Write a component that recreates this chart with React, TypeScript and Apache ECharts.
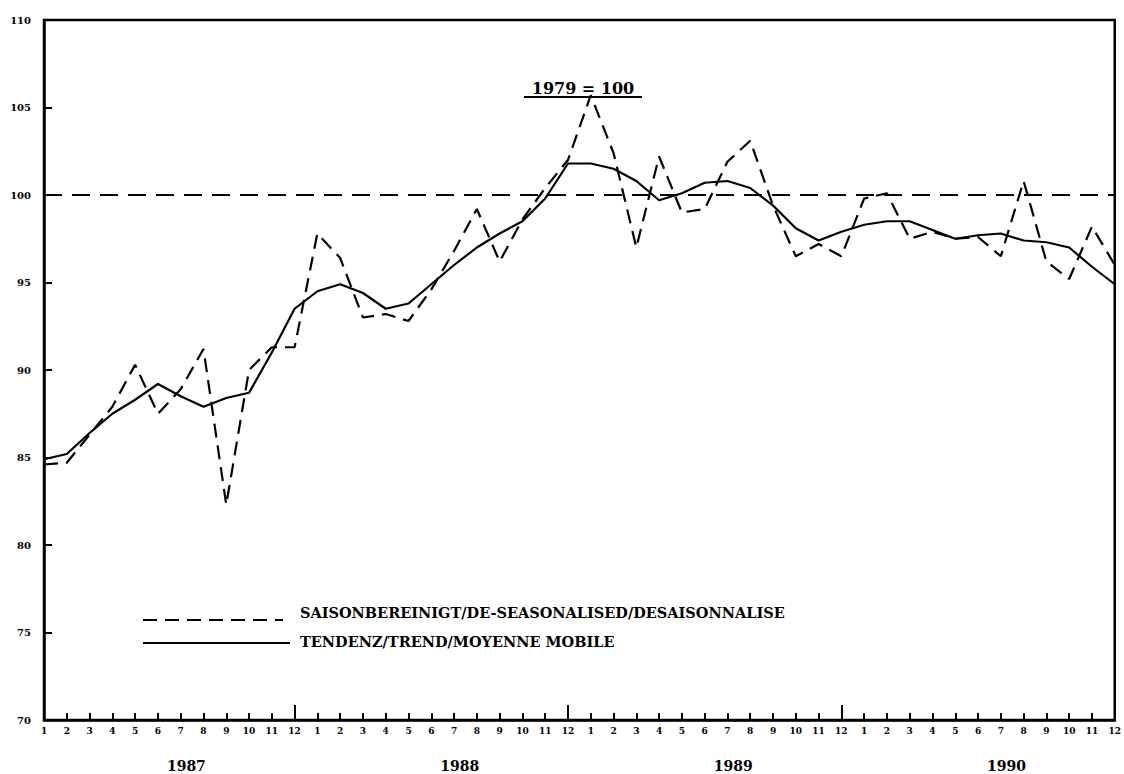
import React, { useEffect, useRef } from "react";
import * as echarts from "echarts";

const years = ["1987", "1988", "1989", "1990"];
const monthTicks = ["1", "2", "3", "4", "5", "6", "7", "8", "9", "10", "11", "12"];
const categories = years.flatMap((y) => monthTicks.map((m) => `${y}-${m}`));

const seasonallyAdjusted = [
  84.6, 84.7, 86.3, 87.9, 90.3, 87.5, 88.9, 91.2, 82.3, 90.0, 91.3, 91.3,
  97.8, 96.4, 93.0, 93.2, 92.8, 94.6, 96.8, 99.2, 96.2, 98.6, 100.4, 102.0,
  105.7, 102.4, 97.0, 102.2, 99.0, 99.2, 101.9, 103.1, 99.4, 96.5, 97.2, 96.5,
  99.8, 100.1, 97.5, 97.9, 97.5, 97.6, 96.5, 100.8, 96.2, 95.2, 98.2, 96.0,
];

const trend = [
  84.9, 85.2, 86.4, 87.5, 88.3, 89.2, 88.5, 87.9, 88.4, 88.7, 91.0, 93.5,
  94.5, 94.9, 94.4, 93.5, 93.8, 94.9, 96.0, 97.0, 97.8, 98.5, 99.8, 101.8,
  101.8, 101.5, 100.8, 99.7, 100.1, 100.7, 100.8, 100.4, 99.4, 98.1, 97.4, 97.9,
  98.3, 98.5, 98.5, 98.0, 97.5, 97.7, 97.8, 97.4, 97.3, 97.0, 95.9, 94.9,
];

const baseValue = 100;
const baseLabel = "1979 = 100";
const legendLabels = [
  "SAISONBEREINIGT/DE-SEASONALISED/DESAISONNALISE",
  "TENDENZ/TREND/MOYENNE MOBILE",
];

const FONT = "'DejaVu Serif', serif";

export default function App() {
  const ref = useRef<HTMLDivElement>(null);

  useEffect(() => {
    if (!ref.current) return;
    const chart = echarts.init(ref.current, null, { renderer: "svg" });
    const monthLabel = (v: string) => v.split("-")[1];

    chart.setOption({
      animation: false,
      backgroundColor: "#fff",
      grid: {
        left: 44,
        right: 6,
        top: 20,
        bottom: 54,
        show: true,
        borderColor: "#000",
        borderWidth: 2.5,
      },
      xAxis: [
        {
          type: "category",
          data: categories,
          boundaryGap: false,
          axisLine: { lineStyle: { color: "#000", width: 2.5 } },
          axisTick: { inside: true, length: 7, lineStyle: { color: "#000", width: 2 }, interval: 0 },
          axisLabel: {
            interval: 0,
            formatter: monthLabel,
            fontFamily: FONT,
            fontWeight: "bold",
            fontSize: 9,
            color: "#000",
            margin: 6,
          },
          splitLine: { show: false },
        },
        {
          type: "category",
          data: categories,
          boundaryGap: false,
          position: "bottom",
          axisLine: { show: false },
          axisTick: {
            inside: true,
            length: 15,
            lineStyle: { color: "#000", width: 2 },
            interval: (i: number) => i % 12 === 11,
          },
          axisLabel: { show: false },
          splitLine: { show: false },
        },
      ],
      yAxis: {
        type: "value",
        min: 70,
        max: 110,
        interval: 5,
        axisLine: { show: true, lineStyle: { color: "#000", width: 2.5 } },
        axisTick: { show: true, inside: true, length: 8, lineStyle: { color: "#000", width: 2 } },
        axisLabel: {
          fontFamily: FONT,
          fontWeight: "bold",
          fontSize: 10,
          color: "#000",
          margin: 13,
        },
        splitLine: { show: false },
      },
      series: [
        {
          name: legendLabels[0],
          type: "line",
          data: seasonallyAdjusted,
          symbol: "none",
          lineStyle: { color: "#000", width: 2.2, type: [14, 8] },
          markLine: {
            silent: true,
            symbol: "none",
            label: { show: false },
            lineStyle: { color: "#000", width: 2.2, type: [18, 10] },
            data: [{ yAxis: baseValue }],
          },
        },
        {
          name: legendLabels[1],
          type: "line",
          data: trend,
          symbol: "none",
          lineStyle: { color: "#000", width: 2.2, type: "solid" },
        },
      ],
    });

    const px = (i: number) => chart.convertToPixel({ xAxisIndex: 0 }, categories[i]) as number;
    const yearGraphics = years.map((y, k) => {
      const a = px(k * 12 + 6);
      const b = px(k * 12 + 7);
      return {
        type: "text",
        x: a + (b - a) * 0.25,
        y: 766,
        style: {
          text: y,
          font: `bold 14px ${FONT}`,
          fill: "#000",
          align: "center",
          verticalAlign: "middle",
        },
      };
    });

    chart.setOption({
      graphic: [
        ...yearGraphics,
        {
          type: "text",
          x: 583,
          y: 88,
          style: {
            text: baseLabel,
            font: `bold 16px ${FONT}`,
            fill: "#000",
            align: "center",
            verticalAlign: "middle",
          },
        },
        {
          type: "line",
          shape: { x1: 524, y1: 97, x2: 642, y2: 97 },
          style: { stroke: "#000", lineWidth: 2 },
        },
        {
          type: "line",
          shape: { x1: 143, y1: 620, x2: 283, y2: 620 },
          style: { stroke: "#000", lineWidth: 2.2, lineDash: [14, 8] },
        },
        {
          type: "line",
          shape: { x1: 143, y1: 643, x2: 290, y2: 643 },
          style: { stroke: "#000", lineWidth: 2.2 },
        },
        {
          type: "text",
          x: 300,
          y: 612,
          style: {
            text: legendLabels[0],
            font: `bold 14.5px ${FONT}`,
            fill: "#000",
            align: "left",
            verticalAlign: "middle",
          },
        },
        {
          type: "text",
          x: 300,
          y: 641,
          style: {
            text: legendLabels[1],
            font: `bold 14.5px ${FONT}`,
            fill: "#000",
            align: "left",
            verticalAlign: "middle",
          },
        },
      ],
    });

    return () => chart.dispose();
  }, []);

  return (
    <div
      ref={ref}
      style={{ position: "fixed", left: 0, top: 0, width: 1124, height: 774, background: "#fff" }}
    />
  );
}
